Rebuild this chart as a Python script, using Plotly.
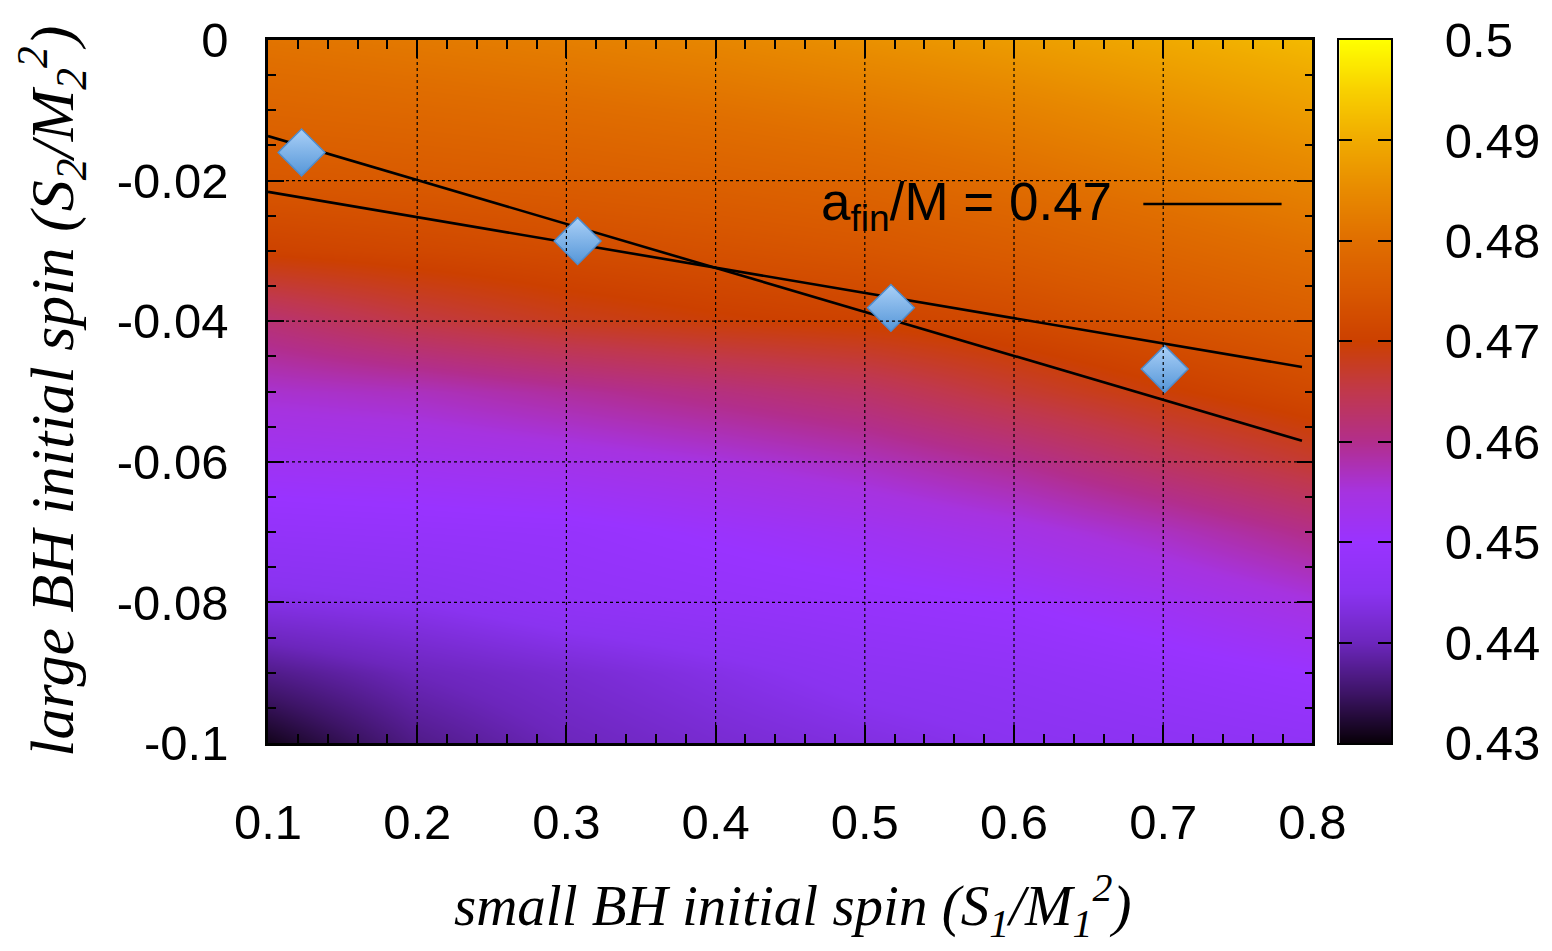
import plotly.graph_objects as go

# ---------------- data ----------------
x_grid = [0.1, 0.2, 0.3, 0.4, 0.5, 0.6, 0.7, 0.8]
y_grid = [-0.10, -0.09, -0.08, -0.07, -0.06, -0.05, -0.04, -0.03, -0.02, -0.01, 0.0]
# a_fin/M (rows follow y_grid, columns follow x_grid)
z_grid = [
    [0.431, 0.437, 0.440, 0.442, 0.4435, 0.445, 0.446, 0.447],
    [0.437, 0.440, 0.442, 0.444, 0.446, 0.447, 0.4485, 0.450],
    [0.444, 0.445, 0.447, 0.448, 0.449, 0.450, 0.452, 0.4548],
    [0.448, 0.4485, 0.449, 0.4505, 0.452, 0.454, 0.4568, 0.4603],
    [0.452, 0.4525, 0.4535, 0.455, 0.457, 0.4598, 0.4635, 0.4668],
    [0.456, 0.457, 0.459, 0.461, 0.463, 0.4665, 0.4695, 0.4720],
    [0.462, 0.4655, 0.468, 0.4695, 0.4705, 0.472, 0.474, 0.4760],
    [0.4705, 0.4715, 0.4725, 0.4735, 0.4745, 0.476, 0.478, 0.480],
    [0.475, 0.4755, 0.4762, 0.477, 0.478, 0.4797, 0.4818, 0.484],
    [0.478, 0.4787, 0.4795, 0.4805, 0.4818, 0.4835, 0.4857, 0.488],
    [0.481, 0.482, 0.483, 0.4843, 0.486, 0.4878, 0.4898, 0.492],
]

# simulation points
sim_x = [0.1225, 0.3075, 0.5175, 0.701]
sim_y = [-0.0160, -0.0286, -0.0381, -0.0468]

# a_fin/M = 0.47 fit lines (end points)
fit1_x = [0.1, 0.793]
fit1_y = [-0.01366, -0.0570]
fit2_x = [0.1, 0.793]
fit2_y = [-0.0216, -0.04651]

x_ticks = [0.1, 0.2, 0.3, 0.4, 0.5, 0.6, 0.7, 0.8]
x_ticktext = ["0.1", "0.2", "0.3", "0.4", "0.5", "0.6", "0.7", "0.8"]
y_ticks = [-0.1, -0.08, -0.06, -0.04, -0.02, 0.0]
y_ticktext = ["-0.1", "-0.08", "-0.06", "-0.04", "-0.02", "0"]
cb_ticks = [0.43, 0.44, 0.45, 0.46, 0.47, 0.48, 0.49, 0.50]
cb_ticktext = ["0.43", "0.44", "0.45", "0.46", "0.47", "0.48", "0.49", "0.5"]
cb_levels = [0.43, 0.50]

colorscale = [
    [0.0, "#080008"],
    [0.0714, "#3d1466"],
    [0.1429, "#6c26bc"],
    [0.2143, "#8a33f0"],
    [0.2857, "#9933ff"],
    [0.3571, "#a633e0"],
    [0.4286, "#b22e8c"],
    [0.5, "#c0384c"],
    [0.5714, "#cc4000"],
    [0.6429, "#d85800"],
    [0.7143, "#e06e00"],
    [0.7857, "#e88a00"],
    [0.8571, "#f0aa00"],
    [0.9286, "#f8d000"],
    [1.0, "#ffff00"],
]

# ---------------- layout geometry ----------------
W, H = 1552, 951
ML, MR, MT, MB = 268, 155, 40, 208
paper_w = W - ML - MR
main_dom = [0, (1318 - ML) / paper_w]
cb_dom = [(1345 - ML) / paper_w, 1.0]

TICKFONT = dict(family="Liberation Sans, Arial, sans-serif", size=49, color="black")
XTITLEFONT = dict(family="Liberation Serif, Times New Roman, serif", size=57, color="black")
YTITLEFONT = dict(family="Liberation Serif, Times New Roman, serif", size=62, color="black")

fig = go.Figure()

fig.add_trace(go.Heatmap(
    x=x_grid, y=y_grid, z=z_grid, coloraxis="coloraxis",
    zsmooth="best", hoverinfo="skip", xaxis="x", yaxis="y"))

for fx, fy in [(fit1_x, fit1_y), (fit2_x, fit2_y)]:
    fig.add_trace(go.Scatter(
        x=fx, y=fy, mode="lines", showlegend=False,
        line=dict(color="black", width=2.6), xaxis="x", yaxis="y"))

fig.add_trace(go.Scatter(
    x=sim_x, y=sim_y, mode="markers", showlegend=False,
    marker=dict(symbol="diamond", size=36, color="#aad0f7",
                gradient=dict(type="vertical", color="#5596d8"),
                line=dict(color="#4f8ccc", width=1.5)),
    xaxis="x", yaxis="y"))

# colour scale bar drawn on its own small axes
fig.add_trace(go.Heatmap(
    x=[0, 1], y=cb_levels, z=[[cb_levels[0], cb_levels[0]], [cb_levels[1], cb_levels[1]]],
    coloraxis="coloraxis", zsmooth="best", hoverinfo="skip", xaxis="x2", yaxis="y2"))

axis_common = dict(
    showline=True, linecolor="black", linewidth=2.5, mirror="ticks",
    ticks="inside", tickcolor="black", tickwidth=2, showgrid=False,
    zeroline=False, layer="above traces", tickfont=TICKFONT, fixedrange=True)

fig.update_layout(
    width=W, height=H,
    margin=dict(l=ML, r=MR, t=MT, b=MB, pad=0),
    paper_bgcolor="white", plot_bgcolor="white",
    showlegend=False,
    coloraxis=dict(colorscale=colorscale, cmin=0.43, cmax=0.50, showscale=False),
    xaxis=dict(axis_common, domain=main_dom, range=[0.1, 0.8], anchor="y",
               tickmode="array", tickvals=x_ticks, ticktext=x_ticktext,
               ticklen=18, ticklabelstandoff=34,
               minor=dict(tickmode="linear", tick0=0.1, dtick=0.02, ticks="inside",
                          ticklen=9, tickwidth=2, tickcolor="black", showgrid=False)),
    yaxis=dict(axis_common, domain=[0, 1], range=[-0.1, 0.0], anchor="x",
               tickmode="array", tickvals=y_ticks, ticktext=y_ticktext,
               ticklen=16, ticklabelstandoff=27,
               minor=dict(tickmode="linear", tick0=0.0, dtick=0.005, ticks="inside",
                          ticklen=8, tickwidth=2, tickcolor="black", showgrid=False)),
    xaxis2=dict(domain=cb_dom, range=[0, 1], anchor="y2", showline=True,
                linecolor="black", linewidth=2, mirror=True, ticks="",
                showticklabels=False, showgrid=False, zeroline=False,
                layer="above traces", fixedrange=True),
    yaxis2=dict(axis_common, domain=[0, 1], range=[0.43, 0.50], anchor="x2",
                side="right", linewidth=2, tickmode="array", tickvals=cb_ticks,
                ticktext=cb_ticktext, ticklen=13, ticklabelstandoff=42),
)

# dotted grid lines drawn above the colour map, at the major tick values
for xv in x_ticks[1:-1]:
    fig.add_shape(type="line", xref="x", yref="y domain", x0=xv, x1=xv, y0=0, y1=1,
                  line=dict(color="black", width=1.2, dash="dot"), layer="above")
for yv in y_ticks[1:-1]:
    fig.add_shape(type="line", xref="x domain", yref="y", x0=0, x1=1, y0=yv, y1=yv,
                  line=dict(color="black", width=1.2, dash="dot"), layer="above")

# key: text + line sample
fig.add_annotation(xref="x domain", yref="y domain", x=(822 - ML) / 1050, y=0.765,
                   xanchor="left", yanchor="middle", showarrow=False,
                   text="a<sub>fin</sub>/M = 0.47",
                   font=dict(family="Liberation Sans, Arial, sans-serif", size=53, color="black"))
fig.add_shape(type="line", xref="x domain", yref="y domain",
              x0=(1148 - ML) / 1050, x1=(1287 - ML) / 1050, y0=(743 - 204) / 703, y1=(743 - 204) / 703,
              line=dict(color="black", width=2.6), layer="above")

# axis titles
fig.add_annotation(xref="paper", yref="paper", x=(795 - ML) / paper_w, y=(743 - 905) / 703,
                   xanchor="center", yanchor="middle", showarrow=False,
                   text="<i>small BH initial spin (S<sub>1</sub>/M<sub>1</sub><sup>2</sup>)</i>",
                   font=XTITLEFONT)
fig.add_annotation(xref="paper", yref="paper", x=(50 - ML) / paper_w, y=0.5,
                   xanchor="center", yanchor="middle", showarrow=False, textangle=-90,
                   text="<i>large BH initial spin (S<sub>2</sub>/M<sub>2</sub><sup>2</sup>)</i>",
                   font=YTITLEFONT)

fig.write_html("out.html")
